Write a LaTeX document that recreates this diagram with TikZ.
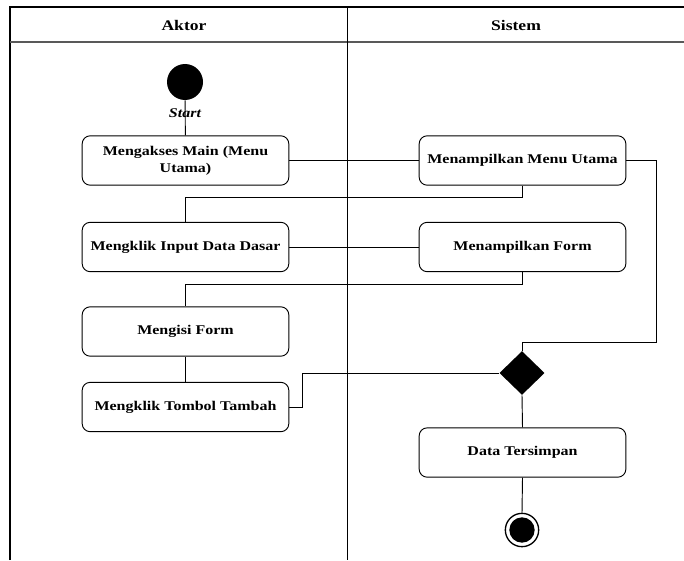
\documentclass[tikz,border=0pt]{standalone}
\usepackage{fontspec}
\setmainfont{Liberation Serif}[FakeStretch=1.2]
\usepackage{tikz}
\usetikzlibrary{%
	calc,%
	shapes.geometric
}

\begin{document}
\begin{tikzpicture}[x=0.75pt,y=-0.75pt,line width=0.7pt,
		act/.style={draw,rounded corners=6pt,minimum width=155pt,minimum height=37pt,
			align=center,font=\fontsize{10}{12.5}\selectfont\bfseries,inner sep=2pt},
		lane/.style={font=\fontsize{11}{13}\selectfont\bfseries}]
				\useasboundingbox (0,0) rectangle (684,560);
				
				% Lanes
				\draw[line width=1pt] (10,560) -- (10,7) -- (684,7);
				\draw[line width=1.2pt,black!65] (10,42) -- (684,42);
				\draw (347,7) -- (347,560);
				\node[lane] (aktor) at (184,25) {Aktor};
				\node[lane] (sistem) at (516,25) {Sistem};
				
				% Start and end
				\node[circle,fill=black,minimum size=27pt,inner sep=0] (start) at (185,82) {};
				\node[font=\fontsize{10}{12}\selectfont\bfseries\itshape] (startlbl) at (185,113) {Start};
				\node[circle,draw,minimum size=25pt,inner sep=0,line width=1pt,
					path picture={\fill (path picture bounding box.center) circle (9.5pt);}] (stop) at (522,530) {};
				
				% Activities
				\node[act] (a1) at (185.5,160.5) {Mengakses Main (Menu\\Utama)};
				\node[act] (a2) at (185.5,247) {Mengklik Input Data Dasar};
				\node[act] (a3) at (185.5,331.5) {Mengisi Form};
				\node[act] (a4) at (185.5,407) {Mengklik Tombol Tambah};
				\node[act] (s1) at (522.5,160.5) {Menampilkan Menu Utama};
				\node[act] (s2) at (522.5,247) {Menampilkan Form};
				\node[act] (s3) at (522.5,452.5) {Data Tersimpan};
				
				% Decision
				\node[diamond,fill=black,minimum width=34pt,minimum height=33pt,inner sep=0] (dec) at (522,373) {};
				\coordinate (j1) at (656,342);
				
				% Edges
				\draw (start) -- (a1);
				\draw (a1) -- (s1);
				\draw (s1.south) -- ++(0,12) -| (a2.north);
				\draw (a2) -- (s2);
				\draw (s2.south) -- ++(0,12) -| (a3.north);
				\draw (a3) -- (a4);
				\draw (a4.east) -- ++(13,0) |- (dec.west);
				\draw (s1.east) -| (j1) -- (j1 -| dec.north) -- (dec.north);
				\draw (dec.south) -- (s3.north);
				\draw (s3.south) -- (stop.north);
			\end{tikzpicture}
\end{document}
